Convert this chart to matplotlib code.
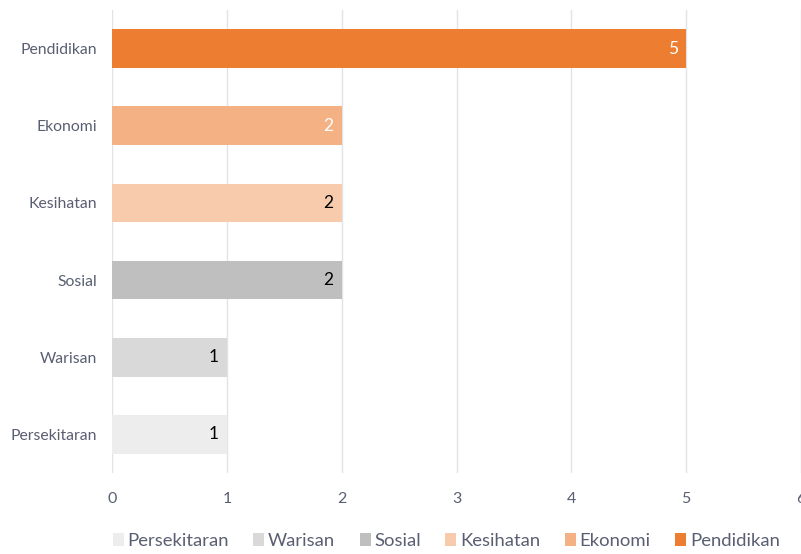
import matplotlib.pyplot as plt
from matplotlib.patches import Patch

categories = ["Persekitaran", "Warisan", "Sosial", "Kesihatan", "Ekonomi", "Pendidikan"]
values = [1, 1, 2, 2, 2, 5]
colors = ["#EDEDED", "#D9D9D9", "#BFBFBF", "#F8CBAD", "#F4B183", "#ED7D31"]
label_colors = ["#000000", "#000000", "#000000", "#000000", "#FFFFFF", "#FFFFFF"]
xticks = [0, 1, 2, 3, 4, 5, 6]

plt.rcParams['font.family'] = ['Lato', 'DejaVu Sans']
text_col = "#595F72"

fig = plt.figure(figsize=(8.01, 5.54), dpi=100)
ax = fig.add_axes([112 / 801, 1 - 473 / 554, (801 - 112) / 801, (473 - 10) / 554])

ypos = range(len(categories))
ax.barh(ypos, values, height=0.5, color=colors, zorder=3)
for y, v, c in zip(ypos, values, label_colors):
    ax.text(v - 0.07, y, str(v), ha="right", va="center", color=c, fontsize=12.5, zorder=4)

ax.set_xlim(0, 6)
ax.set_ylim(-0.5, len(categories) - 0.5)
ax.set_xticks(xticks)
ax.set_yticks(list(ypos))
ax.set_yticklabels(categories)
ax.grid(axis="x", color="#E1E3EA", linewidth=1, zorder=0)
for s in ax.spines.values():
    s.set_visible(False)
ax.tick_params(axis="both", length=0, colors=text_col, labelsize=11.3)
ax.tick_params(axis="x", pad=14, labelsize=11.5)
ax.tick_params(axis="y", pad=10.5)

handles = [Patch(facecolor=c, label=n) for n, c in zip(categories, colors)]
fig.legend(handles=handles, loc="center", bbox_to_anchor=(0.557, 1 - 541 / 554), ncol=6,
           frameon=False, fontsize=13.3, handlelength=0.6, handleheight=0.7,
           handletextpad=0.2, columnspacing=1.32, labelcolor=text_col)

fig.savefig("out.png", dpi=100)
